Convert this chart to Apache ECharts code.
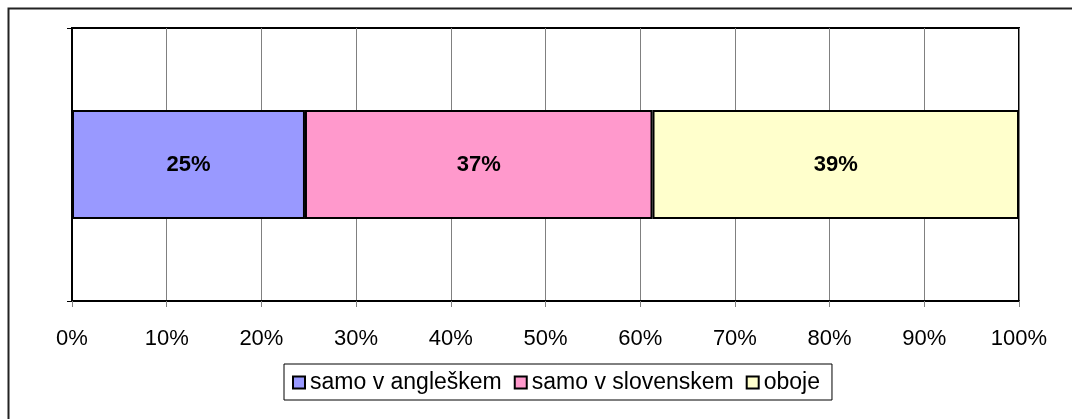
<!DOCTYPE html>
<html>
<head>
<meta charset="utf-8">
<script src="https://cdn.jsdelivr.net/npm/echarts@6/dist/echarts.min.js"></script>
<style>
  html, body { margin: 0; padding: 0; background: #fff; }
  #chart { width: 1072px; height: 419px; }
</style>
</head>
<body>
<div id="chart"></div>
<script>
const seriesNames = ["samo v angleškem", "samo v slovenskem", "oboje"];
const seriesValues = [24.6, 36.7, 38.7];
const seriesColors = ["#9999FF", "#FF99CC", "#FFFFCC"];
const categories = [""];
const font = "'Liberation Sans', Arial, sans-serif";

const chart = echarts.init(document.getElementById("chart"));

let series = seriesNames.map((name, i) => ({
  name: name,
  type: "bar",
  stack: "total",
  barWidth: "40%",
  data: [seriesValues[i]],
  itemStyle: { color: seriesColors[i], borderColor: "#000", borderWidth: 2 },
  label: {
    show: true,
    position: "inside",
    formatter: (p) => Math.round(p.value) + "%",
    color: "#000",
    fontWeight: "bold",
    fontSize: 22,
    fontFamily: font,
  },
  emphasis: { disabled: true },
}));

chart.setOption({
  animation: false,
  textStyle: { fontFamily: font },
  graphic: [
    {
      type: "rect",
      shape: { x: 8.5, y: 8.5, width: 1200, height: 600 },
      style: { fill: null, stroke: "#222", lineWidth: 2 },
      silent: true,
    },
  ],
  grid: {
    left: 72,
    right: 53,
    top: 28,
    bottom: 118,
    show: true,
    borderColor: "#000",
    borderWidth: 2,
  },
  legend: {
    left: 284,
    top: 364,
    itemWidth: 12,
    itemHeight: 12,
    itemGap: 12,
    padding: [7, 12, 6, 8],
    borderColor: "#000",
    borderWidth: 1,
    icon: "rect",
    itemStyle: { borderColor: "#000", borderWidth: 2 },
    textStyle: { fontSize: 23, color: "#000", fontFamily: font },
    data: seriesNames,
    selectedMode: false,
  },
  xAxis: {
    type: "value",
    min: 0,
    max: 100,
    interval: 10,
    axisLine: { show: true, lineStyle: { color: "#000", width: 2 } },
    axisTick: { show: true, length: 6, lineStyle: { color: "#808080" } },
    splitLine: { show: true, lineStyle: { color: "#808080", width: 1 } },
    axisLabel: { formatter: "{value}%", fontSize: 22, color: "#000", margin: 27, fontFamily: font },
  },
  yAxis: {
    type: "category",
    data: categories,
    axisLine: { show: true, lineStyle: { color: "#000", width: 2 } },
    axisTick: { show: true, length: 5, lineStyle: { color: "#000" } },
    axisLabel: { show: false },
  },
  series: series,
});
</script>
</body>
</html>
